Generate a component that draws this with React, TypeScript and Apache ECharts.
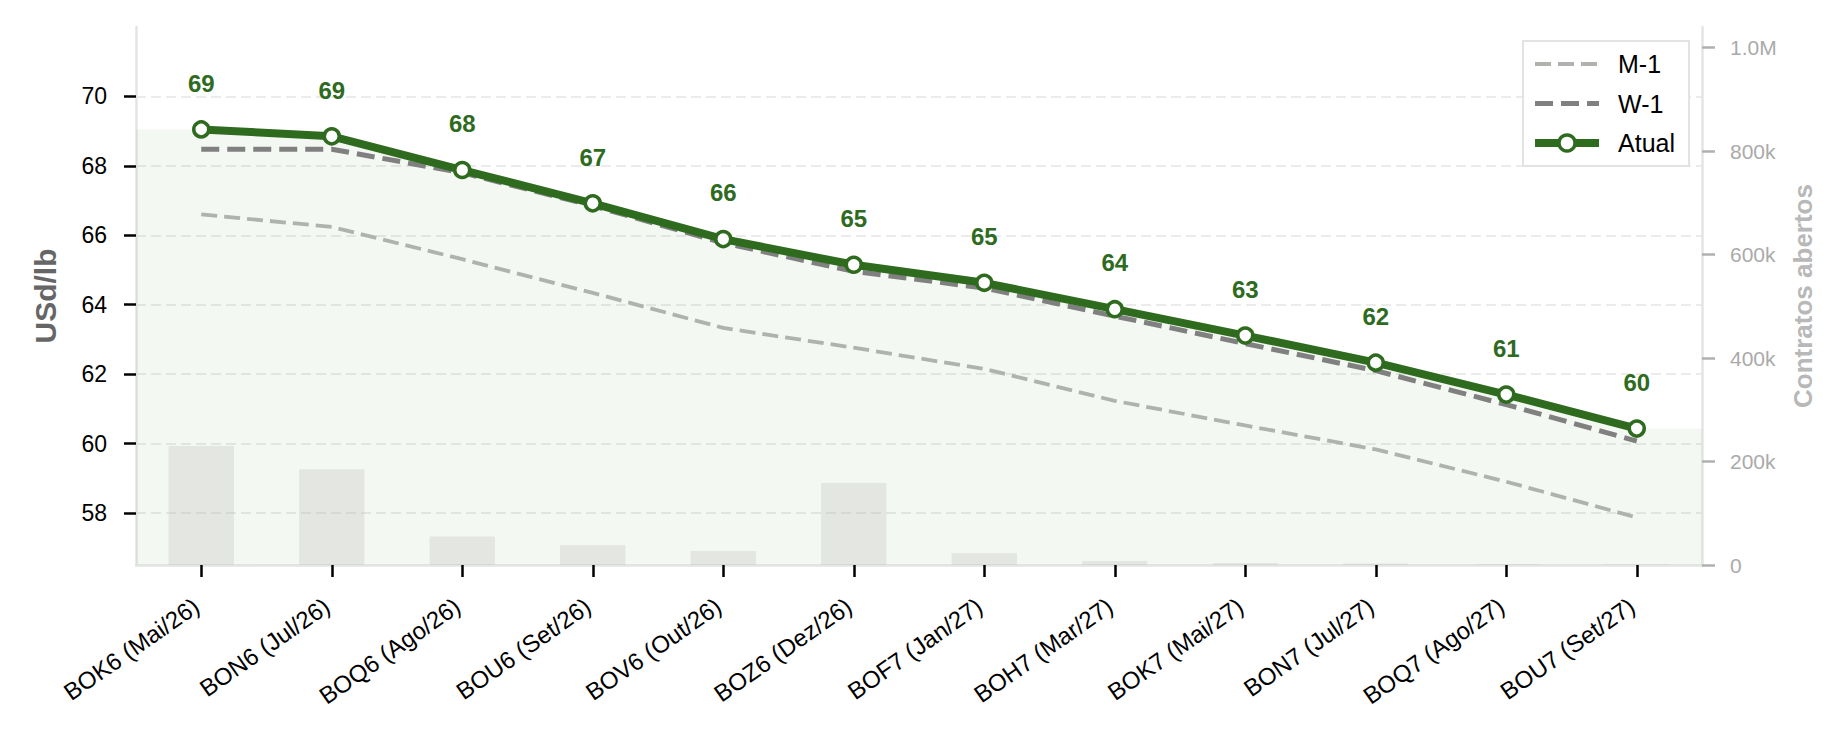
import React, { useEffect, useRef } from 'react';
import * as echarts from 'echarts';

// Soybean oil futures curve (USd/lb) with open interest per contract
const contracts = [
  'BOK6 (Mai/26)', 'BON6 (Jul/26)', 'BOQ6 (Ago/26)', 'BOU6 (Set/26)',
  'BOV6 (Out/26)', 'BOZ6 (Dez/26)', 'BOF7 (Jan/27)', 'BOH7 (Mar/27)',
  'BOK7 (Mai/27)', 'BON7 (Jul/27)', 'BOQ7 (Ago/27)', 'BOU7 (Set/27)',
];
const atual = [69.05, 68.85, 67.88, 66.92, 65.89, 65.15, 64.63, 63.87, 63.11, 62.33, 61.41, 60.43];
const semanaAnterior = [68.48, 68.48, 67.8, 66.85, 65.78, 64.96, 64.48, 63.67, 62.88, 62.1, 61.12, 60.07];
const mesAnterior = [66.6, 66.24, 65.31, 64.34, 63.33, 62.76, 62.15, 61.23, 60.52, 59.83, 58.9, 57.87];
const contratosAbertos = [230000, 185000, 55000, 38500, 27000, 158500, 23000, 7700, 3900, 3000, 1500, 800];

const priceTicks = [58, 60, 62, 64, 66, 68, 70];
const oiTicks = [0, 200000, 400000, 600000, 800000, 1000000];

const GREEN = '#2f6b1f';
const M1_COLOR = '#b0b2ae';
const W1_COLOR = '#808080';
const FONT = '"Liberation Sans", Arial, Helvetica, sans-serif';

function formatOi(v: number): string {
  if (v >= 1000000) return (v / 1000000).toFixed(1) + 'M';
  if (v >= 1000) return Math.round(v / 1000) + 'k';
  return String(v);
}

export default function App() {
  const ref = useRef<HTMLDivElement>(null);

  useEffect(() => {
    if (!ref.current) return;
    const chart = echarts.init(ref.current, null, { renderer: 'svg' });

    const option: any = {
      animation: false,
      backgroundColor: '#ffffff',
      textStyle: { fontFamily: FONT },
      grid: { left: 136, right: 144, top: 27, bottom: 169, containLabel: false, outerBoundsMode: 'none' },
      legend: {
        orient: 'vertical',
        right: 157,
        top: 41,
        data: [
          {
            name: 'M-1',
            itemStyle: { opacity: 0 },
            lineStyle: { color: M1_COLOR, width: 3.8, type: [16, 7] },
          },
          {
            name: 'W-1',
            itemStyle: { opacity: 0 },
            lineStyle: { color: W1_COLOR, width: 5, type: [18, 8] },
          },
          {
            name: 'Atual',
            itemStyle: { color: '#ffffff', borderColor: GREEN, borderWidth: 3.5 },
            lineStyle: { color: GREEN, width: 8 },
          },
        ],
        itemWidth: 64,
        itemHeight: 20,
        itemGap: 11.5,
        padding: [9, 14, 9, 8],
        backgroundColor: '#ffffff',
        borderColor: '#e3e3e3',
        borderWidth: 2,
        borderRadius: 0,
        textStyle: { fontSize: 25, color: '#000', fontFamily: FONT, lineHeight: 28, padding: [0, 0, 0, 14] },
      },
      xAxis: {
        type: 'category',
        data: contracts,
        boundaryGap: true,
        axisLine: { show: true, lineStyle: { color: '#e4e4e4', width: 2.5 } },
        axisTick: { show: true, alignWithLabel: true, length: 12, lineStyle: { color: '#000', width: 2.5 } },
        axisLabel: {
          interval: 0, rotate: 35, fontSize: 24, color: '#000', margin: 35,
          padding: [0, 6, 9, 0], fontFamily: FONT,
        },
        splitLine: { show: false },
      },
      yAxis: [
        {
          type: 'value',
          position: 'left',
          min: 56.5,
          max: 72,
          axisLine: { show: true, lineStyle: { color: '#e4e4e4', width: 2.5 } },
          axisTick: { show: true, length: 12, lineStyle: { color: '#000', width: 2.5 }, customValues: priceTicks },
          axisLabel: { customValues: priceTicks, fontSize: 23, color: '#000', margin: 29, fontFamily: FONT },
          splitLine: { show: true, lineStyle: { color: '#ebebeb', width: 2, type: [10, 5] } },
          name: 'USd/lb',
          nameLocation: 'middle',
          nameRotate: 90,
          nameGap: 76,
          nameTextStyle: { fontSize: 30, fontWeight: 'bold', color: '#666666', fontFamily: FONT },
        },
        {
          type: 'value',
          position: 'right',
          min: 0,
          max: 1040000,
          axisLine: { show: true, lineStyle: { color: '#e4e4e4', width: 2.5 } },
          axisTick: { show: true, length: 13, lineStyle: { color: '#b0b0b0', width: 2.5 }, customValues: oiTicks },
          axisLabel: {
            customValues: oiTicks, fontSize: 21, color: '#aaaaaa', margin: 28, fontFamily: FONT,
            formatter: (v: number) => formatOi(v),
          },
          splitLine: { show: false },
          name: 'Contratos abertos',
          nameLocation: 'middle',
          nameRotate: 90,
          nameGap: 88,
          nameTextStyle: { fontSize: 26, fontWeight: 'bold', color: '#b8b8b8', fontFamily: FONT },
        },
      ],
      series: [
        {
          // light area under the current curve, stretched flat to the plot edges
          type: 'custom',
          name: 'area',
          xAxisIndex: 0,
          yAxisIndex: 0,
          z: 1,
          silent: true,
          clip: false,
          data: atual.map((v, i) => [i, v]),
          encode: { x: 0, y: 1 },
          renderItem: (params: any, api: any) => {
            if (params.dataIndex !== 0) return null;
            const cs = params.coordSys;
            const bottom = cs.y + cs.height;
            const pts = atual.map((v, i) => api.coord([i, v]));
            const poly = [
              [cs.x, bottom],
              [cs.x, pts[0][1]],
              ...pts,
              [cs.x + cs.width, pts[pts.length - 1][1]],
              [cs.x + cs.width, bottom],
            ];
            return {
              type: 'polygon',
              shape: { points: poly },
              style: { fill: 'rgba(60,140,40,0.06)' },
            };
          },
        },
        {
          type: 'bar',
          name: 'Contratos abertos',
          yAxisIndex: 1,
          z: 2,
          barWidth: '50%',
          data: contratosAbertos,
          itemStyle: { color: 'rgba(180,180,180,0.27)' },
          silent: true,
        },
        {
          type: 'line',
          name: 'M-1',
          z: 3,
          data: mesAnterior,
          symbol: 'none',
          lineStyle: { color: M1_COLOR, width: 3.8, type: [16, 7] },
          itemStyle: { color: M1_COLOR },
        },
        {
          type: 'line',
          name: 'W-1',
          z: 4,
          data: semanaAnterior,
          symbol: 'none',
          lineStyle: { color: W1_COLOR, width: 5, type: [18, 8] },
          itemStyle: { color: W1_COLOR },
        },
        {
          type: 'line',
          name: 'Atual',
          z: 5,
          data: atual,
          symbol: 'circle',
          symbolSize: 15,
          showSymbol: true,
          lineStyle: { color: GREEN, width: 8 },
          itemStyle: { color: '#ffffff', borderColor: GREEN, borderWidth: 3.5 },
          label: {
            show: true,
            position: 'top',
            distance: 25,
            color: GREEN,
            fontSize: 24,
            fontWeight: 'bold',
            fontFamily: FONT,
            formatter: (p: any) => String(Math.round(p.value)),
          },
        },
      ],
    };

    chart.setOption(option);
    return () => chart.dispose();
  }, []);

  return (
    <div
      ref={ref}
      style={{ position: 'fixed', left: 0, top: 0, width: 1846, height: 734, background: '#fff' }}
    />
  );
}
